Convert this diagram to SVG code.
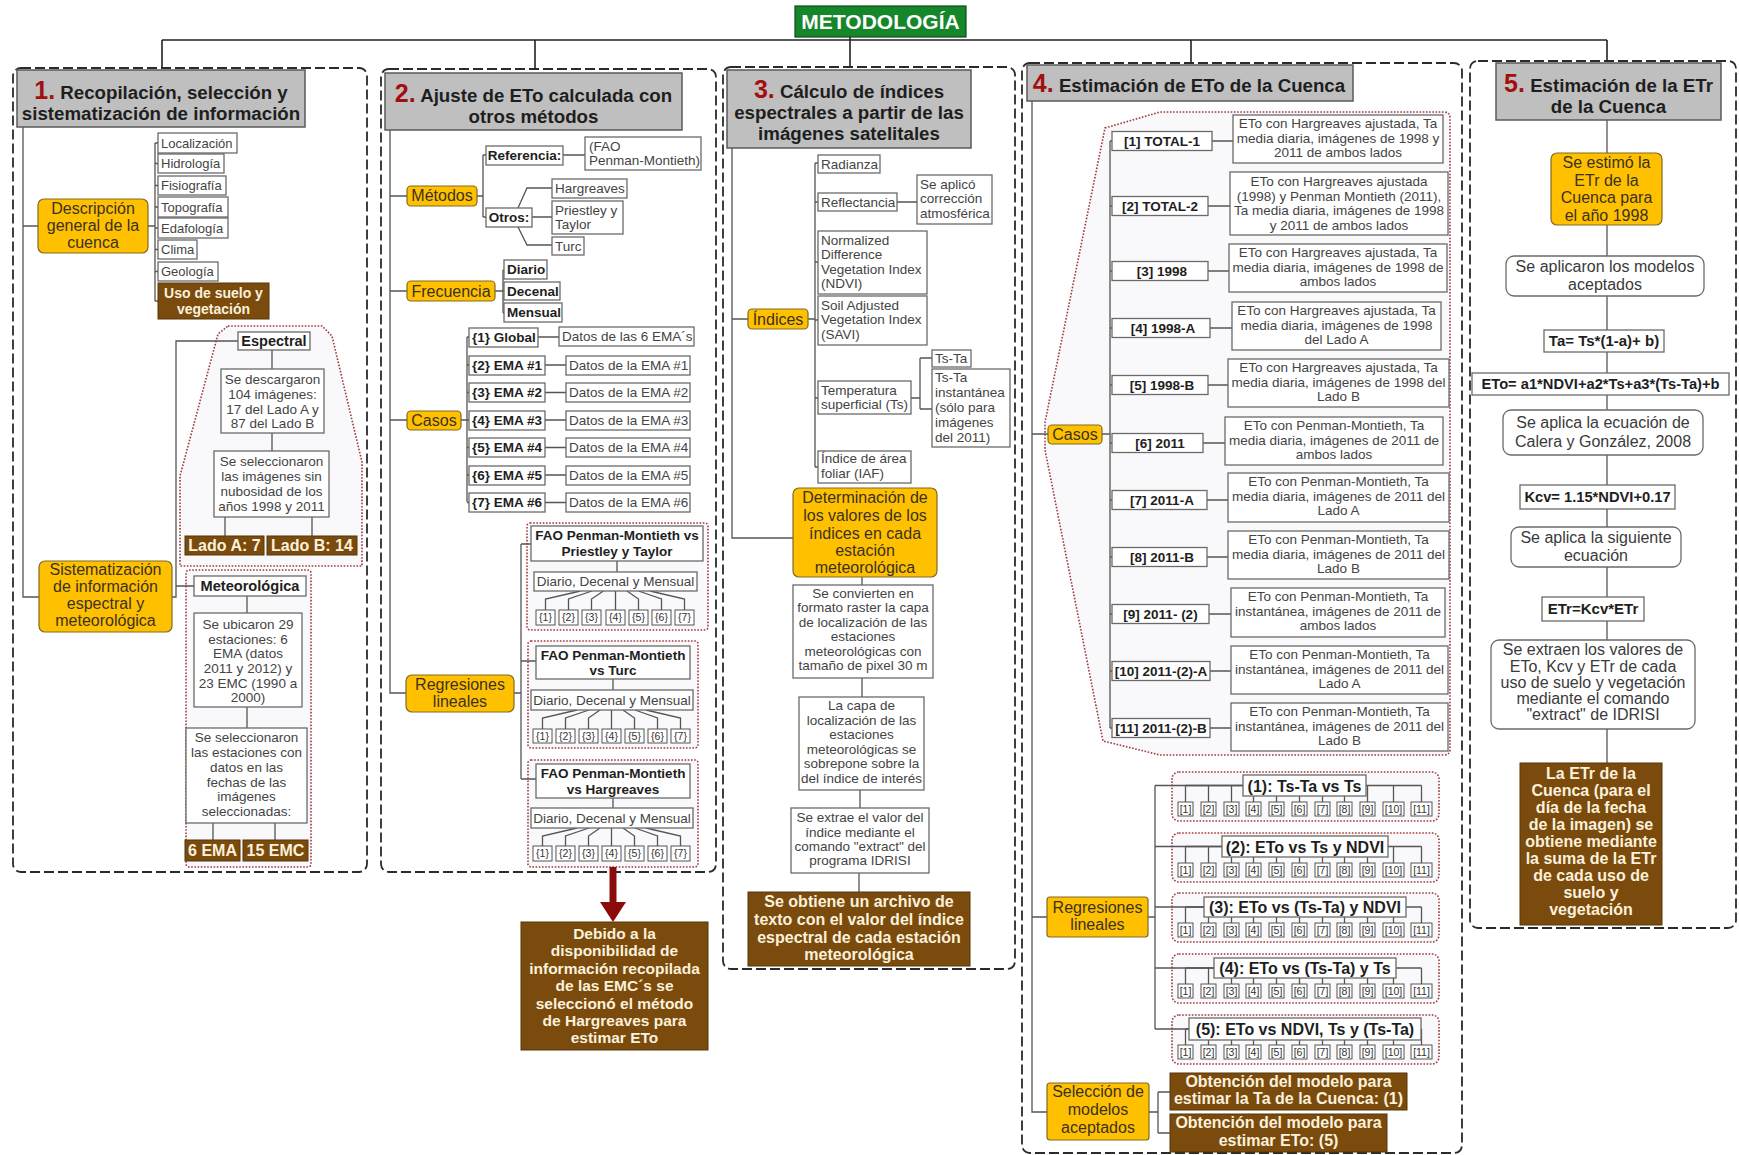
<svg xmlns="http://www.w3.org/2000/svg" width="1739" height="1155" viewBox="0 0 1739 1155">
<style>
text{font-family:"Liberation Sans",Arial,sans-serif}
.col{fill:#fff;stroke:#2b2b2b;stroke-width:1.8;stroke-dasharray:10 4}
.grp{fill:#f9f8fb;stroke:#9e3b3b;stroke-width:1.6;stroke-dasharray:1.6 1.6}
.hdr{fill:#bfbfbf;stroke:#5a5a5a;stroke-width:1.5}
.yel{fill:#ffc000;stroke:#806b22;stroke-width:1.2}
.bx{fill:#fff;stroke:#6a6a6a;stroke-width:1.3}
.brn{fill:#7a4b0c;stroke:#55360a;stroke-width:1}
.sm{fill:#fff;stroke:#555;stroke-width:1}
.ht{font-size:18.7px;font-weight:bold;fill:#1e1e1e;text-anchor:middle}
.n{fill:#a30f0f;font-size:25px}
.yt{font-size:16px;fill:#3a3220;text-anchor:middle}
.t{font-size:13.5px;fill:#444}
.t13{font-size:13px;fill:#444}
.tc{font-size:13.5px;fill:#444;text-anchor:middle}
.tb{font-size:13.5px;font-weight:bold;fill:#1e1e1e}
.tbc{font-size:13.5px;font-weight:bold;fill:#1e1e1e;text-anchor:middle}
.bt{font-size:16px;font-weight:bold;fill:#fbf1dc;text-anchor:middle}
.lbl{font-size:16px;font-weight:bold;fill:#1e1e1e;text-anchor:middle}
.eq{font-size:15px;font-weight:bold;fill:#1e1e1e;text-anchor:middle}
.wt{font-size:16px;fill:#3a3a3a;text-anchor:middle}
.st{font-size:10.5px;fill:#333;text-anchor:middle}
.c{fill:none;stroke:#555;stroke-width:1.3}
.c2{fill:none;stroke:#222;stroke-width:1.6}
</style>

<g id="containers">
<rect class="col" x="13" y="68" width="354" height="804" rx="8"/>
<rect class="col" x="381" y="69" width="335" height="803" rx="8"/>
<rect class="col" x="723" y="67" width="292" height="902" rx="8"/>
<rect class="col" x="1022" y="63" width="440" height="1090" rx="8"/>
<rect class="col" x="1470" y="61" width="266" height="867" rx="8"/>
<path class="grp" d="M228,326H322L332,336L362,462V566H180V476L218,334Z"/>
<rect class="grp" x="186" y="570" width="125" height="297" rx="3"/>
<rect class="grp" x="527" y="523" width="181" height="107" rx="3"/>
<rect class="grp" x="528" y="641" width="170" height="107" rx="3"/>
<rect class="grp" x="528" y="760" width="170" height="107" rx="3"/>
<path class="grp" d="M1105,128L1160,112H1444Q1450,112 1450,118V749Q1450,755 1444,755H1160L1103,741L1045,450V422Z"/>
<rect class="grp" x="1172" y="772" width="267" height="49" rx="7"/>
<rect class="grp" x="1172" y="833" width="267" height="49" rx="7"/>
<rect class="grp" x="1172" y="893" width="267" height="49" rx="7"/>
<rect class="grp" x="1172" y="954" width="267" height="49" rx="7"/>
<rect class="grp" x="1172" y="1015" width="267" height="49" rx="7"/>
</g>

<g id="connectors">
<path class="c2" d="M162,40H1607M162,40V68M535,40V69M850,37V67M1191,40V63M1607,40V61"/>
<path class="c" d="M23,127V597H39M23,226H38M148,226H155M155,143V301M155,143H158M155,163.5H158M155,185.5H158M155,207H158M155,228H158M155,249.5H158M155,271.5H158M155,301H158"/>
<path class="c" d="M172,597H176V341H238M176,586H194M272,350V369M272,433V451M225,517V536M312,517V536M247,596V613M247,707V728M213,823V840M275,823V840"/>
<path class="c" d="M390,130V693H406M390,196H407M390,291H407M390,420H407M477,196H483M483,155V217M483,155H486M483,217H486M563,155H585M518,208L527,188H552M532,217H552M518,227L527,245H552M495,291H503M503,270V313M503,270H504M503,291H504M503,313H504M461,420H467M467,337V502M467,337H469M467,365H469M467,392.5H469M467,420H469M467,447.5H469M467,475H469M467,502.5H469M538,337H559M545,365H566M545,392.5H566M545,420H566M545,447.5H566M545,475H566M545,502.5H566"/>
<path class="c" d="M514,693H521M521,544V779M521,544H531M521,661H536M521,779H536M617,561V572M613,679V690M613,798V808"/>
<path class="c" d="M580.5,591L545.5,599V610M592,591L568.5,599V610M603.5,591L591.5,599V610M615.5,591V610M627,591L638.5,599V610M638.5,591L661.5,599V610M650,591L684.5,599V610"/>
<path class="c" d="M577,710L542.5,718V729M589,710L565.5,718V729M600,710L588.5,718V729M611.5,710V729M623,710L634.5,718V729M635,710L657.5,718V729M646,710L680.5,718V729"/>
<path class="c" d="M577,828L542.5,836V846M589,828L565.5,836V846M600,828L588.5,836V846M611.5,828V846M623,828L634.5,836V846M635,828L657.5,836V846M646,828L680.5,836V846"/>
<path class="c" d="M732,148V538H793M732,319H748M808,319H815M815,163V467M815,163H818M815,202H818M815,262H818M815,320H818M815,398H818M815,467H818M897,202H917M911,398H920M920,358V409M920,358H932M920,409H932M862,577V585M862,678V697M860,790V808M859,873V892"/>
<path class="c" d="M1032,101V1112H1047M1032,434H1048M1032,917H1047M1102,434H1110M1110,141V728M1110,141H1112M1110,206H1112M1110,271H1112M1110,328H1112M1110,385H1112M1110,443H1112M1110,500H1112M1110,557H1112M1110,614H1112M1110,671H1112M1110,728H1112"/>
<path class="c" d="M1212,141H1233M1208,206H1230M1208,271H1229M1210,328H1232M1208,385H1228M1203,443H1225M1207,500H1228M1207,557H1228M1209,614H1231M1210,671H1231M1210,728H1231"/>
<path class="c" d="M1148,917H1155M1155,785.5V1029M1155,785.5H1243M1155,846.5H1222M1155,907H1204M1155,968H1214M1155,1029H1189"/>
<path class="c" d="M1185.5,785.5H1421.5M1185.5,785.5V802M1208.5,785.5V802M1231.5,785.5V802M1253.5,785.5V802M1276.5,785.5V802M1299.5,785.5V802M1322.5,785.5V802M1344.5,785.5V802M1367.5,785.5V802M1393.5,785.5V802M1421.5,785.5V802"/>
<path class="c" d="M1185.5,846.5H1421.5M1185.5,846.5V863M1208.5,846.5V863M1231.5,846.5V863M1253.5,846.5V863M1276.5,846.5V863M1299.5,846.5V863M1322.5,846.5V863M1344.5,846.5V863M1367.5,846.5V863M1393.5,846.5V863M1421.5,846.5V863"/>
<path class="c" d="M1185.5,907H1421.5M1185.5,907V923M1208.5,907V923M1231.5,907V923M1253.5,907V923M1276.5,907V923M1299.5,907V923M1322.5,907V923M1344.5,907V923M1367.5,907V923M1393.5,907V923M1421.5,907V923"/>
<path class="c" d="M1185.5,968H1421.5M1185.5,968V984M1208.5,968V984M1231.5,968V984M1253.5,968V984M1276.5,968V984M1299.5,968V984M1322.5,968V984M1344.5,968V984M1367.5,968V984M1393.5,968V984M1421.5,968V984"/>
<path class="c" d="M1185.5,1029H1421.5M1185.5,1029V1045M1208.5,1029V1045M1231.5,1029V1045M1253.5,1029V1045M1276.5,1029V1045M1299.5,1029V1045M1322.5,1029V1045M1344.5,1029V1045M1367.5,1029V1045M1393.5,1029V1045M1421.5,1029V1045"/>
<path class="c" d="M1149,1112H1158M1158,1092V1133M1158,1092H1170M1158,1133H1170"/>
<path class="c" d="M1607,120V763"/>
<path d="M613,867V905" stroke="#8b0a0a" stroke-width="7" fill="none"/>
<polygon points="600,902 626,902 613,922" fill="#8b0a0a"/>
</g>

<g id="title"><rect x="795" y="6" width="171" height="31" fill="#15862a" stroke="#0b4d17" stroke-width="1.2"/><text x="880.5" y="29" font-size="21" font-weight="bold" fill="#fff" text-anchor="middle">METODOLOGÍA</text></g>

<!-- Column 1 -->
<g id="h1"><rect class="hdr" x="17" y="70" width="288" height="57"/><text class="ht" x="161" y="99"><tspan class="n">1.</tspan> Recopilación, selección y</text><text class="ht" x="161" y="120">sistematización de información</text></g>
<g id="descripcion"><rect class="yel" x="38" y="199" width="110" height="54" rx="6"/><text class="yt" x="93" y="214">Descripción</text><text class="yt" x="93" y="231">general de la</text><text class="yt" x="93" y="248">cuenca</text></g>
<g id="items1">
<rect class="bx" x="158" y="133" width="79" height="20"/><text class="t13" x="161" y="148">Localización</text>
<rect class="bx" x="158" y="154" width="66" height="19"/><text class="t13" x="161" y="168">Hidrología</text>
<rect class="bx" x="158" y="176" width="68" height="19"/><text class="t13" x="161" y="190">Fisiografía</text>
<rect class="bx" x="158" y="197" width="70" height="20"/><text class="t13" x="161" y="212">Topografía</text>
<rect class="bx" x="158" y="218" width="70" height="20"/><text class="t13" x="161" y="233">Edafología</text>
<rect class="bx" x="158" y="240" width="39" height="19"/><text class="t13" x="161" y="254">Clima</text>
<rect class="bx" x="158" y="262" width="60" height="19"/><text class="t13" x="161" y="276">Geología</text>
</g>
<g id="uso"><rect class="brn" x="158" y="283" width="111" height="36"/><text class="bt" x="213.5" y="298" style="font-size:14px">Uso de suelo y</text><text class="bt" x="213.5" y="314" style="font-size:14px">vegetación</text></g>
<g id="sistematizacion"><rect class="yel" x="39" y="561" width="133" height="71" rx="6"/><text class="yt" x="105.5" y="575">Sistematización</text><text class="yt" x="105.5" y="592">de información</text><text class="yt" x="105.5" y="609">espectral y</text><text class="yt" x="105.5" y="626">meteorológica</text></g>
<g id="espectral"><rect class="bx" x="238" y="332" width="72" height="18"/><text class="tbc" x="274" y="346" style="font-size:14.5px">Espectral</text></g>
<g id="descargaron"><rect class="bx" x="221" y="369" width="103" height="64"/><text class="tc" x="272.5" y="384">Se descargaron</text><text class="tc" x="272.5" y="399">104 imágenes:</text><text class="tc" x="272.5" y="414">17 del Lado A y</text><text class="tc" x="272.5" y="428">87 del Lado B</text></g>
<g id="selimg"><rect class="bx" x="214" y="451" width="115" height="66"/><text class="tc" x="271.5" y="466">Se seleccionaron</text><text class="tc" x="271.5" y="481">las imágenes sin</text><text class="tc" x="271.5" y="496">nubosidad de los</text><text class="tc" x="271.5" y="511">años 1998 y 2011</text></g>
<g id="ladoA"><rect class="brn" x="185" y="536" width="79" height="19"/><text class="bt" x="224.5" y="551">Lado A: 7</text></g>
<g id="ladoB"><rect class="brn" x="267" y="536" width="90" height="19"/><text class="bt" x="312" y="551">Lado B: 14</text></g>
<g id="meteo"><rect class="bx" x="194" y="576" width="112" height="20"/><text class="tbc" x="250" y="591" style="font-size:14.6px">Meteorológica</text></g>
<g id="ubicaron"><rect class="bx" x="194" y="613" width="108" height="94"/><text class="tc" x="248" y="629">Se ubicaron 29</text><text class="tc" x="248" y="644">estaciones: 6</text><text class="tc" x="248" y="658">EMA (datos</text><text class="tc" x="248" y="673">2011 y 2012) y</text><text class="tc" x="248" y="688">23 EMC (1990 a</text><text class="tc" x="248" y="702">2000)</text></g>
<g id="selest"><rect class="bx" x="186" y="728" width="121" height="95"/><text class="tc" x="246.5" y="742">Se seleccionaron</text><text class="tc" x="246.5" y="757">las estaciones con</text><text class="tc" x="246.5" y="772">datos en las</text><text class="tc" x="246.5" y="787">fechas de las</text><text class="tc" x="246.5" y="801">imágenes</text><text class="tc" x="246.5" y="816">seleccionadas:</text></g>
<g id="ema6"><rect class="brn" x="185" y="840" width="55" height="21"/><text class="bt" x="212.5" y="856">6 EMA</text></g>
<g id="emc15"><rect class="brn" x="243" y="840" width="65" height="21"/><text class="bt" x="275.5" y="856">15 EMC</text></g>

<!-- Column 2 -->
<g id="h2"><rect class="hdr" x="385" y="73" width="297" height="57"/><text class="ht" x="533.5" y="102"><tspan class="n">2.</tspan> Ajuste de ETo calculada con</text><text class="ht" x="533.5" y="123">otros métodos</text></g>
<g id="metodos"><rect class="yel" x="407" y="186" width="70" height="20" rx="4"/><text class="yt" x="442" y="201">Métodos</text></g>
<g id="referencia"><rect class="bx" x="486" y="146" width="77" height="19"/><text class="tbc" x="524.5" y="160">Referencia:</text></g>
<g id="fao"><rect class="bx" x="585" y="137" width="116" height="33"/><text class="t" x="589" y="151">(FAO</text><text class="t" x="589" y="165">Penman-Montieth)</text></g>
<g id="otros"><rect class="bx" x="486" y="208" width="46" height="19"/><text class="tbc" x="509" y="222">Otros:</text></g>
<g id="hargreaves"><rect class="bx" x="552" y="179" width="75" height="19"/><text class="t" x="555" y="193">Hargreaves</text></g>
<g id="priestley"><rect class="bx" x="552" y="201" width="71" height="33"/><text class="t" x="555" y="215">Priestley y</text><text class="t" x="555" y="229">Taylor</text></g>
<g id="turc"><rect class="bx" x="552" y="237" width="32" height="18"/><text class="t" x="555" y="251">Turc</text></g>
<g id="frecuencia"><rect class="yel" x="407" y="281" width="88" height="20" rx="4"/><text class="yt" x="451" y="296.5">Frecuencia</text></g>
<g id="freqs"><rect class="bx" x="504" y="260" width="43" height="19"/><text class="tb" x="507" y="274">Diario</text><rect class="bx" x="504" y="282" width="56" height="18"/><text class="tb" x="507" y="296">Decenal</text><rect class="bx" x="504" y="303" width="58" height="19"/><text class="tb" x="507" y="317">Mensual</text></g>
<g id="casos2"><rect class="yel" x="407" y="411" width="54" height="19" rx="4"/><text class="yt" x="434" y="426">Casos</text></g>
<g id="casos2items">
<rect class="bx" x="469" y="328" width="69" height="19"/><text class="tb" x="472" y="342">{1} Global</text>
<rect class="bx" x="469" y="356" width="76" height="19"/><text class="tb" x="472" y="370">{2} EMA #1</text>
<rect class="bx" x="469" y="383" width="76" height="19"/><text class="tb" x="472" y="397">{3} EMA #2</text>
<rect class="bx" x="469" y="411" width="76" height="19"/><text class="tb" x="472" y="425">{4} EMA #3</text>
<rect class="bx" x="469" y="438" width="76" height="19"/><text class="tb" x="472" y="452">{5} EMA #4</text>
<rect class="bx" x="469" y="466" width="76" height="19"/><text class="tb" x="472" y="480">{6} EMA #5</text>
<rect class="bx" x="469" y="493" width="76" height="19"/><text class="tb" x="472" y="507">{7} EMA #6</text>
<rect class="bx" x="559" y="327" width="135" height="19"/><text class="t" x="562" y="341">Datos de las 6 EMA´s</text>
<rect class="bx" x="566" y="356" width="124" height="19"/><text class="t" x="569" y="370">Datos de la EMA #1</text>
<rect class="bx" x="566" y="383" width="124" height="19"/><text class="t" x="569" y="397">Datos de la EMA #2</text>
<rect class="bx" x="566" y="411" width="124" height="19"/><text class="t" x="569" y="425">Datos de la EMA #3</text>
<rect class="bx" x="566" y="438" width="124" height="19"/><text class="t" x="569" y="452">Datos de la EMA #4</text>
<rect class="bx" x="566" y="466" width="124" height="19"/><text class="t" x="569" y="480">Datos de la EMA #5</text>
<rect class="bx" x="566" y="493" width="124" height="19"/><text class="t" x="569" y="507">Datos de la EMA #6</text>
</g>
<g id="regresiones2"><rect class="yel" x="406" y="675" width="108" height="37" rx="6"/><text class="yt" x="460" y="690">Regresiones</text><text class="yt" x="460" y="707">lineales</text></g>
<g id="reg2a">
<rect class="bx" x="531" y="526" width="172" height="35"/><text class="tbc" x="617" y="540">FAO Penman-Montieth vs</text><text class="tbc" x="617" y="556">Priestley y Taylor</text>
<rect class="bx" x="534" y="572" width="163" height="19"/><text class="tc" x="615.5" y="586">Diario, Decenal y Mensual</text>
<g class="sm"><rect x="536" y="610" width="19" height="15"/><rect x="559" y="610" width="19" height="15"/><rect x="582" y="610" width="19" height="15"/><rect x="606" y="610" width="19" height="15"/><rect x="629" y="610" width="19" height="15"/><rect x="652" y="610" width="19" height="15"/><rect x="675" y="610" width="19" height="15"/></g>
<text class="st" y="621"><tspan x="545.5">{1}</tspan><tspan x="568.5">{2}</tspan><tspan x="591.5">{3}</tspan><tspan x="615.5">{4}</tspan><tspan x="638.5">{5}</tspan><tspan x="661.5">{6}</tspan><tspan x="684.5">{7}</tspan></text>
</g>
<g id="reg2b">
<rect class="bx" x="536" y="646" width="154" height="33"/><text class="tbc" x="613" y="660">FAO Penman-Montieth</text><text class="tbc" x="613" y="675">vs Turc</text>
<rect class="bx" x="531" y="690" width="162" height="20"/><text class="tc" x="612" y="705">Diario, Decenal y Mensual</text>
<g class="sm"><rect x="533" y="729" width="19" height="14"/><rect x="556" y="729" width="19" height="14"/><rect x="579" y="729" width="19" height="14"/><rect x="602" y="729" width="19" height="14"/><rect x="625" y="729" width="19" height="14"/><rect x="648" y="729" width="19" height="14"/><rect x="671" y="729" width="19" height="14"/></g>
<text class="st" y="740"><tspan x="542.5">{1}</tspan><tspan x="565.5">{2}</tspan><tspan x="588.5">{3}</tspan><tspan x="611.5">{4}</tspan><tspan x="634.5">{5}</tspan><tspan x="657.5">{6}</tspan><tspan x="680.5">{7}</tspan></text>
</g>
<g id="reg2c">
<rect class="bx" x="536" y="764" width="154" height="34"/><text class="tbc" x="613" y="778">FAO Penman-Montieth</text><text class="tbc" x="613" y="794">vs Hargreaves</text>
<rect class="bx" x="531" y="808" width="162" height="20"/><text class="tc" x="612" y="823">Diario, Decenal y Mensual</text>
<g class="sm"><rect x="533" y="846" width="19" height="15"/><rect x="556" y="846" width="19" height="15"/><rect x="579" y="846" width="19" height="15"/><rect x="602" y="846" width="19" height="15"/><rect x="625" y="846" width="19" height="15"/><rect x="648" y="846" width="19" height="15"/><rect x="671" y="846" width="19" height="15"/></g>
<text class="st" y="857"><tspan x="542.5">{1}</tspan><tspan x="565.5">{2}</tspan><tspan x="588.5">{3}</tspan><tspan x="611.5">{4}</tspan><tspan x="634.5">{5}</tspan><tspan x="657.5">{6}</tspan><tspan x="680.5">{7}</tspan></text>
</g>
<g id="debido"><rect class="brn" x="521" y="922" width="187" height="128"/><text class="bt" x="614.5" style="font-size:15.5px"><tspan x="614.5" y="939">Debido a la</tspan><tspan x="614.5" y="956">disponibilidad de</tspan><tspan x="614.5" y="974">información recopilada</tspan><tspan x="614.5" y="991">de las EMC´s se</tspan><tspan x="614.5" y="1009">seleccionó el método</tspan><tspan x="614.5" y="1026">de Hargreaves para</tspan><tspan x="614.5" y="1043">estimar ETo</tspan></text></g>

<!-- Column 3 -->
<g id="h3"><rect class="hdr" x="727" y="70" width="244" height="78"/><text class="ht" x="849" y="98"><tspan class="n">3.</tspan> Cálculo de índices</text><text class="ht" x="849" y="119">espectrales a partir de las</text><text class="ht" x="849" y="140">imágenes satelitales</text></g>
<g id="indices"><rect class="yel" x="748" y="309" width="60" height="20" rx="4"/><text class="yt" x="778" y="325">Índices</text></g>
<g id="radianza"><rect class="bx" x="818" y="155" width="62" height="18"/><text class="t" x="821" y="169">Radianza</text></g>
<g id="reflectancia"><rect class="bx" x="818" y="193" width="79" height="18"/><text class="t" x="821" y="207">Reflectancia</text></g>
<g id="correccion"><rect class="bx" x="917" y="175" width="75" height="49"/><text class="t" x="920" y="189">Se aplicó</text><text class="t" x="920" y="203">corrección</text><text class="t" x="920" y="218">atmosférica</text></g>
<g id="ndvi"><rect class="bx" x="818" y="231" width="109" height="63"/><text class="t" x="821" y="245">Normalized</text><text class="t" x="821" y="259">Difference</text><text class="t" x="821" y="274">Vegetation Index</text><text class="t" x="821" y="288">(NDVI)</text></g>
<g id="savi"><rect class="bx" x="818" y="296" width="109" height="49"/><text class="t" x="821" y="310">Soil Adjusted</text><text class="t" x="821" y="324">Vegetation Index</text><text class="t" x="821" y="339">(SAVI)</text></g>
<g id="ts"><rect class="bx" x="818" y="381" width="93" height="33"/><text class="t" x="821" y="395">Temperatura</text><text class="t" x="821" y="409">superficial (Ts)</text></g>
<g id="tsta"><rect class="bx" x="932" y="350" width="39" height="17"/><text class="t" x="935" y="363">Ts-Ta</text></g>
<g id="tstainst"><rect class="bx" x="932" y="369" width="78" height="78"/><text class="t" x="935" y="382">Ts-Ta</text><text class="t" x="935" y="397">instantánea</text><text class="t" x="935" y="412">(sólo para</text><text class="t" x="935" y="427">imágenes</text><text class="t" x="935" y="442">del 2011)</text></g>
<g id="iaf"><rect class="bx" x="818" y="451" width="93" height="32"/><text class="t" x="821" y="463">Índice de área</text><text class="t" x="821" y="478">foliar (IAF)</text></g>
<g id="determinacion"><rect class="yel" x="793" y="488" width="144" height="89" rx="6"/><text class="yt" x="865" y="503">Determinación de</text><text class="yt" x="865" y="521">los valores de los</text><text class="yt" x="865" y="539">índices en cada</text><text class="yt" x="865" y="556">estación</text><text class="yt" x="865" y="573">meteorológica</text></g>
<g id="convierten"><rect class="bx" x="793" y="585" width="140" height="93"/><text class="tc" x="863" y="598">Se convierten en</text><text class="tc" x="863" y="612">formato raster la capa</text><text class="tc" x="863" y="627">de localización de las</text><text class="tc" x="863" y="641">estaciones</text><text class="tc" x="863" y="656">meteorológicas con</text><text class="tc" x="863" y="670">tamaño de pixel 30 m</text></g>
<g id="capa"><rect class="bx" x="799" y="697" width="125" height="93"/><text class="tc" x="861.5" y="710">La capa de</text><text class="tc" x="861.5" y="725">localización de las</text><text class="tc" x="861.5" y="739">estaciones</text><text class="tc" x="861.5" y="754">meteorológicas se</text><text class="tc" x="861.5" y="768">sobrepone sobre la</text><text class="tc" x="861.5" y="783">del índice de interés</text></g>
<g id="extrae"><rect class="bx" x="791" y="808" width="138" height="65"/><text class="tc" x="860" y="822">Se extrae el valor  del</text><text class="tc" x="860" y="837">índice mediante el</text><text class="tc" x="860" y="851">comando "extract" del</text><text class="tc" x="860" y="865">programa IDRISI</text></g>
<g id="archivo"><rect class="brn" x="748" y="892" width="222" height="74"/><text class="bt" x="859" y="907">Se obtiene un archivo de</text><text class="bt" x="859" y="925">texto con el valor del índice</text><text class="bt" x="859" y="943">espectral de cada estación</text><text class="bt" x="859" y="960">meteorológica</text></g>

<!-- Column 4 -->
<g id="h4"><rect class="hdr" x="1027" y="65" width="326" height="36"/><text class="ht" x="1189" y="92"><tspan class="n">4.</tspan> Estimación de ETo de la Cuenca</text></g>
<g id="casos4"><rect class="yel" x="1048" y="425" width="54" height="19" rx="4"/><text class="yt" x="1075" y="440">Casos</text></g>
<g id="casos4items">
<rect class="bx" x="1112" y="131.5" width="100" height="19"/><text class="tbc" x="1162" y="146">[1] TOTAL-1</text>
<rect class="bx" x="1112" y="196.5" width="96" height="19"/><text class="tbc" x="1160" y="211">[2] TOTAL-2</text>
<rect class="bx" x="1112" y="261.5" width="96" height="19"/><text class="tbc" x="1162" y="276">[3] 1998</text>
<rect class="bx" x="1112" y="318.5" width="98" height="19"/><text class="tbc" x="1163" y="333">[4] 1998-A</text>
<rect class="bx" x="1112" y="375.5" width="96" height="19"/><text class="tbc" x="1162" y="390">[5] 1998-B</text>
<rect class="bx" x="1112" y="433.5" width="91" height="19"/><text class="tbc" x="1160" y="448">[6] 2011</text>
<rect class="bx" x="1112" y="490.5" width="95" height="19"/><text class="tbc" x="1162" y="505">[7] 2011-A</text>
<rect class="bx" x="1112" y="547.5" width="95" height="19"/><text class="tbc" x="1162" y="562">[8] 2011-B</text>
<rect class="bx" x="1112" y="604.5" width="97" height="19"/><text class="tbc" x="1160.5" y="619">[9] 2011- (2)</text>
<rect class="bx" x="1112" y="661.5" width="98" height="19"/><text class="tbc" x="1161" y="676">[10] 2011-(2)-A</text>
<rect class="bx" x="1112" y="718.5" width="98" height="19"/><text class="tbc" x="1161" y="733">[11] 2011-(2)-B</text>
</g>
<g id="casos4desc">
<rect class="bx" x="1233" y="115" width="210" height="48"/><text class="tc" x="1338" y="128">ETo con Hargreaves ajustada, Ta</text><text class="tc" x="1338" y="142.5">media diaria, imágenes de 1998 y</text><text class="tc" x="1338" y="157">2011 de ambos lados</text>
<rect class="bx" x="1230" y="172" width="218" height="63"/><text class="tc" x="1339" y="186">ETo con Hargreaves ajustada</text><text class="tc" x="1339" y="200.5">(1998) y Penman Montieth (2011),</text><text class="tc" x="1339" y="215">Ta media diaria, imágenes de 1998</text><text class="tc" x="1339" y="229.5">y 2011 de ambos lados</text>
<rect class="bx" x="1229" y="244" width="218" height="48"/><text class="tc" x="1338" y="257">ETo con Hargreaves ajustada, Ta</text><text class="tc" x="1338" y="271.5">media diaria, imágenes de 1998 de</text><text class="tc" x="1338" y="286">ambos lados</text>
<rect class="bx" x="1232" y="302" width="209" height="48"/><text class="tc" x="1336.5" y="315">ETo con Hargreaves ajustada, Ta</text><text class="tc" x="1336.5" y="329.5">media diaria, imágenes de 1998</text><text class="tc" x="1336.5" y="344">del Lado A</text>
<rect class="bx" x="1228" y="359" width="221" height="48"/><text class="tc" x="1338.5" y="372">ETo con Hargreaves ajustada, Ta</text><text class="tc" x="1338.5" y="386.5">media diaria, imágenes de 1998 del</text><text class="tc" x="1338.5" y="401">Lado B</text>
<rect class="bx" x="1225" y="417" width="218" height="48"/><text class="tc" x="1334" y="430">ETo con Penman-Montieth, Ta</text><text class="tc" x="1334" y="444.5">media diaria, imágenes de 2011 de</text><text class="tc" x="1334" y="459">ambos lados</text>
<rect class="bx" x="1228" y="473" width="221" height="49"/><text class="tc" x="1338.5" y="486">ETo con Penman-Montieth, Ta</text><text class="tc" x="1338.5" y="500.5">media diaria, imágenes de 2011 del</text><text class="tc" x="1338.5" y="515">Lado A</text>
<rect class="bx" x="1228" y="531" width="221" height="48"/><text class="tc" x="1338.5" y="544">ETo con Penman-Montieth, Ta</text><text class="tc" x="1338.5" y="558.5">media diaria, imágenes de 2011 del</text><text class="tc" x="1338.5" y="573">Lado B</text>
<rect class="bx" x="1231" y="588" width="214" height="49"/><text class="tc" x="1338" y="601">ETo con Penman-Montieth, Ta</text><text class="tc" x="1338" y="615.5">instantánea, imágenes de 2011 de</text><text class="tc" x="1338" y="630">ambos lados</text>
<rect class="bx" x="1231" y="646" width="217" height="48"/><text class="tc" x="1339.5" y="659">ETo con Penman-Montieth, Ta</text><text class="tc" x="1339.5" y="673.5">instantánea, imágenes de 2011 del</text><text class="tc" x="1339.5" y="688">Lado A</text>
<rect class="bx" x="1231" y="703" width="217" height="48"/><text class="tc" x="1339.5" y="716">ETo con Penman-Montieth, Ta</text><text class="tc" x="1339.5" y="730.5">instantánea, imágenes de 2011 del</text><text class="tc" x="1339.5" y="745">Lado B</text>
</g>
<g id="regresiones4"><rect class="yel" x="1047" y="897" width="101" height="40" rx="3"/><text class="yt" x="1097.5" y="913">Regresiones</text><text class="yt" x="1097.5" y="930">lineales</text></g>
<g id="reg4labels">
<rect class="bx" x="1243" y="775" width="123" height="21"/><text class="lbl" x="1304.5" y="791.5">(1): Ts-Ta vs Ts</text>
<rect class="bx" x="1222" y="836" width="166" height="21"/><text class="lbl" x="1305" y="852.5">(2): ETo vs Ts y NDVI</text>
<rect class="bx" x="1204" y="897" width="202" height="20"/><text class="lbl" x="1305" y="913">(3): ETo vs (Ts-Ta) y NDVI</text>
<rect class="bx" x="1214" y="958" width="182" height="20"/><text class="lbl" x="1305" y="974">(4): ETo vs (Ts-Ta) y Ts</text>
<rect class="bx" x="1189" y="1018" width="232" height="22"/><text class="lbl" x="1305" y="1035">(5): ETo vs NDVI, Ts y (Ts-Ta)</text>
</g>
<defs>
<g id="row11" class="sm"><rect x="1178" y="0" width="15" height="14"/><rect x="1201" y="0" width="15" height="14"/><rect x="1224" y="0" width="15" height="14"/><rect x="1246" y="0" width="15" height="14"/><rect x="1269" y="0" width="15" height="14"/><rect x="1292" y="0" width="15" height="14"/><rect x="1315" y="0" width="15" height="14"/><rect x="1337" y="0" width="15" height="14"/><rect x="1360" y="0" width="15" height="14"/><rect x="1383" y="0" width="21" height="14"/><rect x="1411" y="0" width="21" height="14"/></g>
</defs>
<g id="reg4boxes">
<use href="#row11" y="802"/><use href="#row11" y="863"/><use href="#row11" y="923"/><use href="#row11" y="984"/><use href="#row11" y="1045"/>
<text class="st" y="813"><tspan x="1185.5">[1]</tspan><tspan x="1208.5">[2]</tspan><tspan x="1231.5">[3]</tspan><tspan x="1253.5">[4]</tspan><tspan x="1276.5">[5]</tspan><tspan x="1299.5">[6]</tspan><tspan x="1322.5">[7]</tspan><tspan x="1344.5">[8]</tspan><tspan x="1367.5">[9]</tspan><tspan x="1393.5">[10]</tspan><tspan x="1421.5">[11]</tspan></text>
<text class="st" y="874"><tspan x="1185.5">[1]</tspan><tspan x="1208.5">[2]</tspan><tspan x="1231.5">[3]</tspan><tspan x="1253.5">[4]</tspan><tspan x="1276.5">[5]</tspan><tspan x="1299.5">[6]</tspan><tspan x="1322.5">[7]</tspan><tspan x="1344.5">[8]</tspan><tspan x="1367.5">[9]</tspan><tspan x="1393.5">[10]</tspan><tspan x="1421.5">[11]</tspan></text>
<text class="st" y="934"><tspan x="1185.5">[1]</tspan><tspan x="1208.5">[2]</tspan><tspan x="1231.5">[3]</tspan><tspan x="1253.5">[4]</tspan><tspan x="1276.5">[5]</tspan><tspan x="1299.5">[6]</tspan><tspan x="1322.5">[7]</tspan><tspan x="1344.5">[8]</tspan><tspan x="1367.5">[9]</tspan><tspan x="1393.5">[10]</tspan><tspan x="1421.5">[11]</tspan></text>
<text class="st" y="995"><tspan x="1185.5">[1]</tspan><tspan x="1208.5">[2]</tspan><tspan x="1231.5">[3]</tspan><tspan x="1253.5">[4]</tspan><tspan x="1276.5">[5]</tspan><tspan x="1299.5">[6]</tspan><tspan x="1322.5">[7]</tspan><tspan x="1344.5">[8]</tspan><tspan x="1367.5">[9]</tspan><tspan x="1393.5">[10]</tspan><tspan x="1421.5">[11]</tspan></text>
<text class="st" y="1056"><tspan x="1185.5">[1]</tspan><tspan x="1208.5">[2]</tspan><tspan x="1231.5">[3]</tspan><tspan x="1253.5">[4]</tspan><tspan x="1276.5">[5]</tspan><tspan x="1299.5">[6]</tspan><tspan x="1322.5">[7]</tspan><tspan x="1344.5">[8]</tspan><tspan x="1367.5">[9]</tspan><tspan x="1393.5">[10]</tspan><tspan x="1421.5">[11]</tspan></text>
</g>
<g id="seleccion"><rect class="yel" x="1047" y="1083" width="102" height="57" rx="3"/><text class="yt" x="1098" y="1097">Selección de</text><text class="yt" x="1098" y="1115">modelos</text><text class="yt" x="1098" y="1133">aceptados</text></g>
<g id="modeloTa"><rect class="brn" x="1170" y="1073" width="237" height="37"/><text class="bt" x="1288.5" y="1087">Obtención del modelo para</text><text class="bt" x="1288.5" y="1104">estimar la Ta de la Cuenca: (1)</text></g>
<g id="modeloETo"><rect class="brn" x="1170" y="1114" width="217" height="38"/><text class="bt" x="1278.5" y="1128">Obtención del modelo para</text><text class="bt" x="1278.5" y="1146">estimar ETo: (5)</text></g>

<!-- Column 5 -->
<g id="h5"><rect class="hdr" x="1496" y="63" width="225" height="57"/><text class="ht" x="1608.5" y="92"><tspan class="n">5.</tspan> Estimación de la ETr</text><text class="ht" x="1608.5" y="113">de la Cuenca</text></g>
<g id="estimo"><rect class="yel" x="1551" y="153" width="111" height="72" rx="6"/><text class="yt" x="1606.5" y="168">Se estimó la</text><text class="yt" x="1606.5" y="185.5">ETr de la</text><text class="yt" x="1606.5" y="203">Cuenca para</text><text class="yt" x="1606.5" y="220.5">el año 1998</text></g>
<g id="aplicaron"><rect class="bx" x="1506" y="256" width="198" height="40" rx="8"/><text class="wt" x="1605" y="272">Se aplicaron los modelos</text><text class="wt" x="1605" y="290">aceptados</text></g>
<g id="eqTa"><rect class="bx" x="1544" y="330" width="120" height="22"/><text class="eq" x="1604" y="346">Ta= Ts*(1-a)+ b)</text></g>
<g id="eqETo"><rect class="bx" x="1472" y="373" width="257" height="22"/><text class="eq" x="1600.5" y="389" style="font-size:14.7px">ETo= a1*NDVI+a2*Ts+a3*(Ts-Ta)+b</text></g>
<g id="calera"><rect class="bx" x="1503" y="410" width="200" height="45" rx="8"/><text class="wt" x="1603" y="428">Se aplica la ecuación de</text><text class="wt" x="1603" y="447">Calera y González, 2008</text></g>
<g id="eqKcv"><rect class="bx" x="1520" y="485" width="155" height="24"/><text class="eq" x="1597.5" y="502" style="font-size:14.7px">Kcv= 1.15*NDVI+0.17</text></g>
<g id="siguiente"><rect class="bx" x="1511" y="527" width="170" height="40" rx="8"/><text class="wt" x="1596" y="543">Se aplica la siguiente</text><text class="wt" x="1596" y="561">ecuación</text></g>
<g id="eqETr"><rect class="bx" x="1542" y="597" width="102" height="24"/><text class="eq" x="1593" y="614">ETr=Kcv*ETr</text></g>
<g id="extraen"><rect class="bx" x="1491" y="640" width="204" height="89" rx="8"/><text class="wt" x="1593" y="655">Se extraen los valores de</text><text class="wt" x="1593" y="672">ETo, Kcv y ETr de cada</text><text class="wt" x="1593" y="688">uso de suelo y vegetación</text><text class="wt" x="1593" y="704">mediante el comando</text><text class="wt" x="1593" y="720">"extract" de IDRISI</text></g>
<g id="etrcuenca"><rect class="brn" x="1520" y="763" width="142" height="162"/><text class="bt" x="1591"><tspan x="1591" y="779">La ETr de la</tspan><tspan x="1591" y="796">Cuenca (para el</tspan><tspan x="1591" y="813">día de la fecha</tspan><tspan x="1591" y="830">de la imagen) se</tspan><tspan x="1591" y="847">obtiene mediante</tspan><tspan x="1591" y="864">la suma de la ETr</tspan><tspan x="1591" y="881">de cada uso de</tspan><tspan x="1591" y="898">suelo y</tspan><tspan x="1591" y="915">vegetación</tspan></text></g>
</svg>
